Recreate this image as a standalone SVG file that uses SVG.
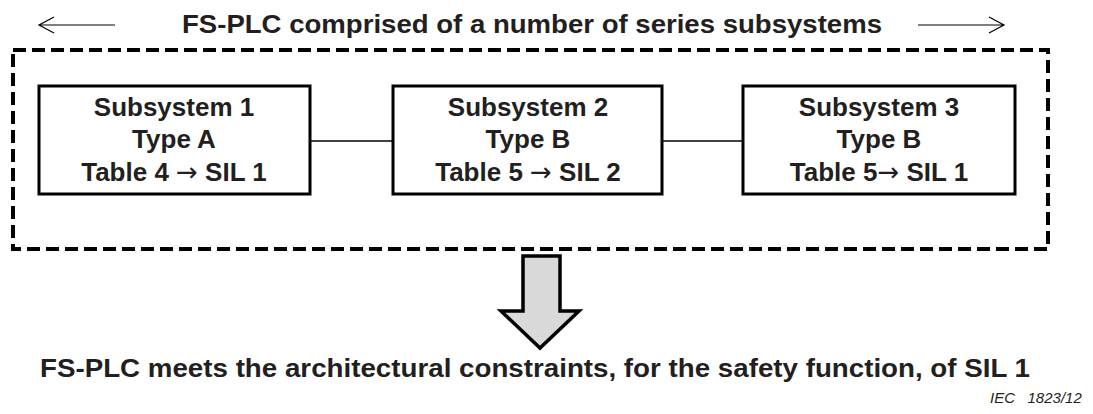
<svg xmlns="http://www.w3.org/2000/svg" width="1093" height="414" viewBox="0 0 1093 414">
  <style>
    .t { font-family: "Liberation Sans", Arial, sans-serif; font-weight: bold; fill: #231f20; text-anchor: middle; }
    .node rect { fill: #fff; stroke: #000; stroke-width: 3; }
    .node text { font-size: 26px; }
    .arr { font-family: "DejaVu Sans", sans-serif; font-weight: normal; }
    .wire { stroke: #000; stroke-width: 1.5; fill: none; }
    .thin { stroke: #000; stroke-width: 1.2; fill: none; }
  </style>
  <rect width="1093" height="414" fill="#fff"/>

  <!-- heading with span arrows -->
  <g id="heading">
    <text class="t" x="532" y="33" font-size="26" textLength="700" lengthAdjust="spacingAndGlyphs">FS-PLC comprised of a number of series subsystems</text>
    <path class="thin" d="M115 25 H39 M54 17 L39 25 L54 33"/>
    <path class="thin" d="M918 25 H1004 M989 17 L1004 25 L989 33"/>
  </g>

  <!-- dashed system boundary -->
  <g id="boundary">
    <rect x="13" y="50" width="1035" height="199" fill="none" stroke="#000" stroke-width="4" stroke-dasharray="13 6"/>
  </g>

  <g id="connectors">
    <line class="wire" x1="310" y1="141" x2="393" y2="141"/>
    <line class="wire" x1="662" y1="141" x2="743" y2="141"/>
  </g>

  <g id="subsystem1" class="node">
    <rect x="39" y="86" width="271" height="108"/>
    <text class="t" x="174" y="116">Subsystem 1</text>
    <text class="t" x="174" y="148">Type A</text>
    <text class="t" x="174" y="181">Table 4 <tspan class="arr">→</tspan> SIL 1</text>
  </g>

  <g id="subsystem2" class="node">
    <rect x="393" y="86" width="269" height="108"/>
    <text class="t" x="528" y="116">Subsystem 2</text>
    <text class="t" x="528" y="148">Type B</text>
    <text class="t" x="528" y="181">Table 5 <tspan class="arr">→</tspan> SIL 2</text>
  </g>

  <g id="subsystem3" class="node">
    <rect x="743" y="86" width="272" height="108"/>
    <text class="t" x="879" y="116">Subsystem 3</text>
    <text class="t" x="879" y="148">Type B</text>
    <text class="t" x="879" y="181">Table 5<tspan class="arr">→</tspan> SIL 1</text>
  </g>

  <!-- result arrow -->
  <g id="result-arrow">
    <path d="M523 256 H560 V311 H579 L540 348 L501 311 H523 Z" fill="#d9d9d9" stroke="#000" stroke-width="3.5" stroke-linejoin="miter"/>
  </g>

  <g id="conclusion">
    <text class="t" x="535" y="377" font-size="26" textLength="990" lengthAdjust="spacingAndGlyphs">FS-PLC meets the architectural constraints, for the safety function, of SIL 1</text>
  </g>

  <text x="990" y="403" font-family="Liberation Sans, Arial, sans-serif" font-style="italic" font-size="15" fill="#231f20" xml:space="preserve">IEC   1823/12</text>
</svg>
